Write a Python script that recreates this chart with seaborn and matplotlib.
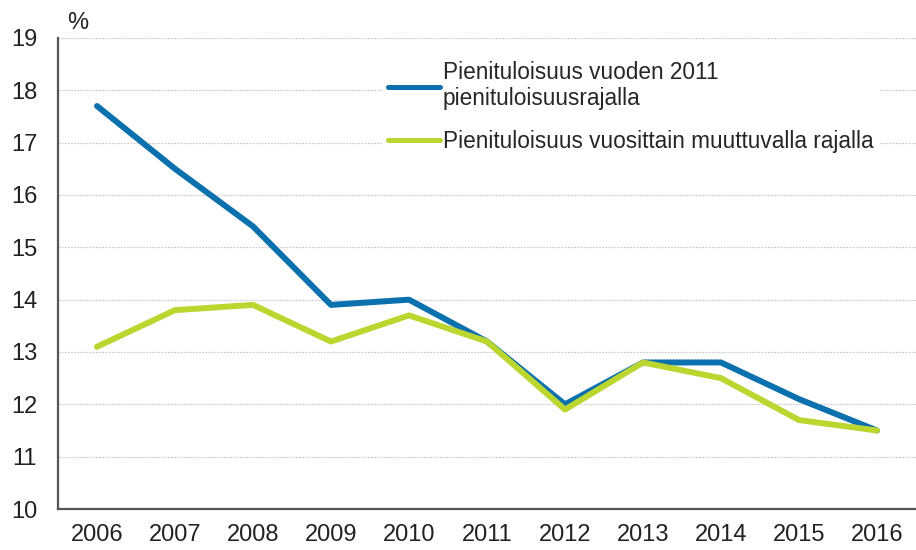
import matplotlib
matplotlib.use("Agg")
import matplotlib.pyplot as plt
import seaborn as sns
import pandas as pd

# Data
years = ["2006", "2007", "2008", "2009", "2010", "2011", "2012", "2013", "2014", "2015", "2016"]
fixed_line = [17.7, 16.5, 15.4, 13.9, 14.0, 13.2, 12.0, 12.8, 12.8, 12.1, 11.5]
yearly_line = [13.1, 13.8, 13.9, 13.2, 13.7, 13.2, 11.9, 12.8, 12.5, 11.7, 11.5]
series_names = ["Pienituloisuus vuoden 2011\npienituloisuusrajalla",
                "Pienituloisuus vuosittain muuttuvalla rajalla"]
colors = ["#0a70ae", "#bcd630"]

df = pd.DataFrame({
    "Vuosi": years * 2,
    "Arvo": fixed_line + yearly_line,
    "Sarja": [series_names[0]] * len(years) + [series_names[1]] * len(years),
})

sns.set_style("white")
plt.rcParams["font.family"] = ["Liberation Sans", "DejaVu Sans"]

fig = plt.figure(figsize=(9.16, 5.5), dpi=100)
ax = fig.add_axes([0.0633, 0.0745, 0.9367, 0.8565])

sns.lineplot(data=df, x="Vuosi", y="Arvo", hue="Sarja", palette=colors,
             linewidth=4.3, sort=False, ax=ax)

ax.set_ylim(10, 19)
ax.set_xlim(-0.5, 10.5)
ax.set_yticks(range(10, 20))
ax.set_xlabel("")
ax.set_ylabel("")
ax.grid(axis="y", color="#cccccc", linestyle=(0, (1.5, 1)), linewidth=0.9)
ax.set_axisbelow(True)
ax.tick_params(axis="both", length=0, labelsize=17, colors="#222222")
ax.tick_params(axis="x", pad=11)
ax.tick_params(axis="y", pad=15)
for side in ["top", "right"]:
    ax.spines[side].set_visible(False)
for side in ["left", "bottom"]:
    ax.spines[side].set_color("#555555")
    ax.spines[side].set_linewidth(1.6)

fig.text(0.073, 0.947, "%", fontsize=17, color="#222222")

leg = ax.legend(loc="upper left", bbox_to_anchor=(0.364, 0.99), frameon=True,
                fontsize=16.3, handlelength=2.3, handletextpad=0.1,
                labelspacing=0.85, borderpad=0.3)
leg.get_frame().set_edgecolor("none")
leg.get_frame().set_facecolor("white")
leg.get_frame().set_alpha(1)
leg.get_frame().set_boxstyle("square", pad=0)
for line in leg.get_lines():
    line.set_linewidth(3.6)

fig.savefig("out.png", dpi=100)
